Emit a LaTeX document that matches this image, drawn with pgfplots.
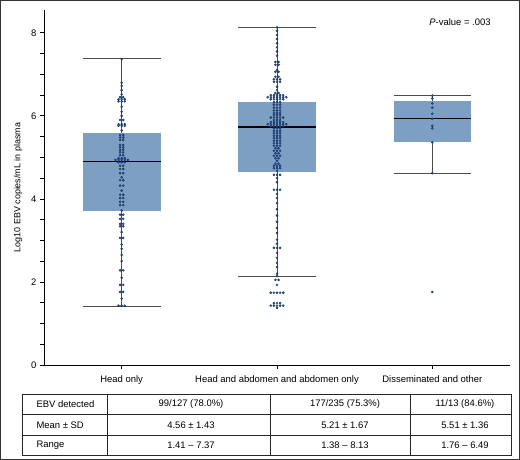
\documentclass[border=0pt]{standalone}
\usepackage{pgfplots}
\pgfplotsset{compat=1.18}
\usepgfplotslibrary{statistics}
\usepackage{fontspec}
\setmainfont{Liberation Sans}
\definecolor{boxblue}{RGB}{125,159,195}
\definecolor{dotblue}{RGB}{40,90,150}
\definecolor{dotedge}{RGB}{18,45,90}

\begin{document}
\begin{tikzpicture}
\useasboundingbox (0,0) rectangle (520bp,460bp);
\draw[black!80, line width=1bp] (0.5bp,0.5bp) rectangle (519.5bp,459.5bp);

\begin{axis}[
    at={(44bp,95bp)}, anchor=south west,
    scale only axis, width=466bp, height=355bp,
    xmin=-0.5, xmax=2.5, ymin=0, ymax=8.55,
    axis x line*=bottom, axis y line*=left,
    axis line style={line width=0.9pt, -},
    xtick={0,1,2},
    xticklabels={Head only, Head and abdomen and abdomen only, Disseminated and other},
    x tick label style={yshift=-3bp},
    ytick={0,2,4,6,8}, minor y tick num=3,
    tick align=outside, major tick length=4bp, minor tick length=4bp,
    tick style={black, line width=0.8pt},
    every tick label/.append style={font=\fontsize{9.5}{11}\selectfont},
    /pgf/number format/assume math mode=true,
    ylabel={Log10 EBV copies/mL in plasma},
    ylabel style={at={(axis description cs:-0.0558,0.5)}, anchor=center, font=\fontsize{9}{10}\selectfont},
    boxplot/draw direction=y,
    boxplot/every box/.style={fill=boxblue, draw=none},
    boxplot/every whisker/.style={draw=black!70, line width=1bp},
    boxplot/every median/.style={draw=black, line width=1.2pt},
]

% boxes
\addplot[black, boxplot prepared={draw position=0, lower whisker=1.41, lower quartile=3.70,
    median=4.90, upper quartile=5.58, upper whisker=7.37, box extend=0.5, whisker extend=0.5}]
    coordinates {};
\addplot[black, boxplot prepared={draw position=1, lower whisker=2.14, lower quartile=4.64,
    median=5.73, upper quartile=6.34, upper whisker=8.13, box extend=0.5, whisker extend=0.5}]
    coordinates {};
\addplot[black, boxplot prepared={draw position=2, lower whisker=4.62, lower quartile=5.36,
    median=5.93, upper quartile=6.36, upper whisker=6.49, box extend=0.5, whisker extend=0.5}]
    coordinates {};

% dots, head only
\addplot[only marks, mark=*, mark size=1.1bp, mark options={fill=dotblue, draw=dotedge, line width=0.3bp}]
coordinates {
(0,7.37)
(0,6.80) (0,6.72) (0,6.62) (0,6.52)
(-0.01,6.45) (0.01,6.45)
(-0.02,6.40) (0,6.40) (0.02,6.40)
(-0.02,6.35) (0,6.35) (0.02,6.35)
(0,6.22) (0,6.10) (0,6.00)
(-0.01,5.90) (0.01,5.90)
(-0.02,5.80) (0,5.80) (0.02,5.80)
(-0.02,5.76) (0,5.76) (0.02,5.76)
(0,5.65)
(-0.01,5.54) (0.01,5.54)
(-0.01,5.48) (0.01,5.48)
(-0.01,5.42) (0.01,5.42)
(-0.01,5.30) (0.01,5.30)
(-0.01,5.24) (0.01,5.24)
(-0.01,5.18) (0.01,5.18)
(-0.01,5.12) (0.01,5.12)
(-0.01,5.05) (0.01,5.05)
(-0.02,4.98) (0,4.98) (0.02,4.98)
(-0.04,4.94) (-0.02,4.94) (0,4.94) (0.02,4.94) (0.04,4.94)
(-0.02,4.88) (0,4.88) (0.02,4.88)
(-0.01,4.80) (0.01,4.80)
(-0.01,4.72) (0.01,4.72)
(-0.01,4.62) (0.01,4.62)
(0,4.52)
(-0.01,4.45) (0.01,4.45)
(-0.01,4.32) (0.01,4.32)
(0,4.20)
(-0.01,4.10) (0.01,4.10)
(-0.01,4.02) (0.01,4.02)
(-0.01,3.93) (0.01,3.93)
(-0.01,3.85) (0.01,3.85)
(0,3.72)
(-0.01,3.62) (0.01,3.62)
(-0.01,3.52) (0.01,3.52)
(-0.01,3.40) (0.01,3.40)
(-0.01,3.34) (0.01,3.34)
(0,3.20)
(-0.01,3.06) (0.01,3.06)
(0,2.90) (0,2.80) (0,2.65) (0,2.50)
(-0.01,2.28) (0.01,2.28)
(0,2.10)
(-0.01,1.93) (0.01,1.93)
(-0.01,1.76) (0.01,1.76)
(0,1.60)
(-0.02,1.43) (0,1.43) (0.02,1.43)
};

% dots, head and abdomen
\addplot[only marks, mark=*, mark size=1.1bp, mark options={fill=dotblue, draw=dotedge, line width=0.3bp}]
coordinates {
(1,8.13) (1,8.05) (1,7.95) (1,7.85) (1,7.75) (1,7.65) (1,7.55) (1,7.45)
(0.99,7.30) (1.01,7.30)
(0.99,7.23) (1.01,7.23)
(1,7.10)
(0.99,7.06) (1.01,7.06)
(0.99,6.94) (1.01,6.94)
(0.98,6.88) (1,6.88) (1.02,6.88)
(0.98,6.82) (1,6.82) (1.02,6.82)
(1,6.70) (1,6.62)
(0.99,6.55) (1.01,6.55)
(0.96,6.50) (0.98,6.50) (1,6.50) (1.02,6.50) (1.04,6.50)
(0.94,6.45) (0.96,6.45) (0.98,6.45) (1,6.45) (1.02,6.45) (1.04,6.45) (1.06,6.45)
(0.96,6.40) (0.98,6.40) (1,6.40) (1.02,6.40) (1.04,6.40)
(0.98,6.33) (1,6.33) (1.02,6.33)
(0.98,6.27) (1,6.27) (1.02,6.27)
(0.98,6.20) (1,6.20) (1.02,6.20)
(0.98,6.13) (1,6.13) (1.02,6.13)
(0.98,6.07) (1,6.07) (1.02,6.07)
(0.98,6.02) (1,6.02) (1.02,6.02)
(0.96,5.96) (0.98,5.96) (1,5.96) (1.02,5.96) (1.04,5.96)
(0.98,5.90) (1,5.90) (1.02,5.90)
(0.96,5.85) (0.98,5.85) (1,5.85) (1.02,5.85) (1.04,5.85)
(0.94,5.80) (0.96,5.80) (0.98,5.80) (1,5.80) (1.02,5.80) (1.04,5.80) (1.06,5.80)
(0.96,5.75) (0.98,5.75) (1,5.75) (1.02,5.75) (1.04,5.75)
(0.98,5.70) (1,5.70) (1.02,5.70)
(0.98,5.64) (1,5.64) (1.02,5.64)
(0.98,5.58) (1,5.58) (1.02,5.58)
(0.98,5.52) (1,5.52) (1.02,5.52)
(0.98,5.46) (1,5.46) (1.02,5.46)
(0.98,5.40) (1,5.40) (1.02,5.40)
(0.98,5.34) (1,5.34) (1.02,5.34)
(0.98,5.28) (1,5.28) (1.02,5.28)
(0.99,5.22) (1.01,5.22)
(0.98,5.16) (1,5.16) (1.02,5.16)
(0.99,5.10) (1.01,5.10)
(0.98,5.04) (1,5.04) (1.02,5.04)
(0.99,4.98) (1.01,4.98)
(1,4.92)
(0.99,4.85) (1.01,4.85)
(0.98,4.80) (1,4.80) (1.02,4.80)
(0.98,4.74) (1,4.74) (1.02,4.74)
(1,4.68)
(0.98,4.58) (1,4.58) (1.02,4.58)
(1,4.50) (1,4.40)
(0.98,4.22) (1,4.22) (1.02,4.22)
(1,4.12) (1,4.02) (1,3.90) (1,3.75) (1,3.60) (1,3.45) (1,3.30) (1,3.18) (1,3.02) (1,2.92)
(0.98,2.82) (1,2.82) (1.02,2.82)
(1,2.70) (1,2.58) (1,2.46) (1,2.36) (1,2.20) (1,2.14)
(0.99,2.05) (1.01,2.05)
(1,1.93)
(0.96,1.74) (0.98,1.74) (1,1.74) (1.02,1.74) (1.04,1.74)
(0.98,1.49) (1,1.49) (1.02,1.49)
(0.96,1.43) (0.98,1.43) (1,1.43) (1.02,1.43) (1.04,1.43)
(1,1.38)
};

% dots, disseminated
\addplot[only marks, mark=*, mark size=1.1bp, mark options={fill=dotblue, draw=dotedge, line width=0.3bp}]
coordinates {
(2,6.49) (2,6.42) (2,6.30) (2,6.20) (2,6.05) (2,5.93)
(2,5.76) (2,5.70) (2,5.36) (2,4.62) (2,1.76)
};
\end{axis}

\node[font=\fontsize{9.5}{11}\selectfont] at (460bp,438bp) {\textit{P}-value = .003};

% table under the chart
\begin{scope}[x=1bp, y=1bp, font=\fontsize{9.5}{11}\selectfont]
\draw[black!85, line width=0.7bp] (22,4.5) rectangle (511,66);
\draw[black!85, line width=0.7bp] (22,45.5) -- (511,45.5) (22,25) -- (511,25)
    (107,4.5) -- (107,66) (270,4.5) -- (270,66) (410,4.5) -- (410,66);
\node[anchor=west] at (33,55.75) {EBV detected};
\node[anchor=west] at (33,35.25) {Mean ± SD};
\node[anchor=west] at (33,14.75) {Range};
\node at (191,55.75) {99/127 (78.0\%)};
\node at (345,55.75) {177/235 (75.3\%)};
\node at (465,55.75) {11/13 (84.6\%)};
\node at (191,35.25) {4.56 ± 1.43};
\node at (345,35.25) {5.21 ± 1.67};
\node at (465,35.25) {5.51 ± 1.36};
\node at (191,14.75) {1.41 – 7.37};
\node at (345,14.75) {1.38 – 8.13};
\node at (465,14.75) {1.76 – 6.49};
\end{scope}
\end{tikzpicture}
\end{document}
